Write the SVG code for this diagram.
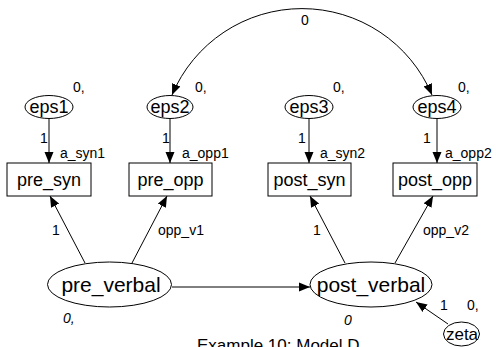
<svg xmlns="http://www.w3.org/2000/svg" width="496" height="347" viewBox="0 0 496 347">
<style>
text{font-family:"Liberation Sans",Arial,sans-serif;fill:#000}
.sh{fill:#fff;stroke:#000;stroke-width:1}
.ln{fill:none;stroke:#000;stroke-width:1}
.box{font-size:18px;text-anchor:middle}
.eps{font-size:18px;text-anchor:middle}
.lat{font-size:21px;text-anchor:middle}
.sm{font-size:14px}
.it{font-size:14px;font-style:italic}
</style>
<defs>
<marker id="ah" markerUnits="userSpaceOnUse" markerWidth="12" markerHeight="10" refX="11" refY="4.5" orient="auto-start-reverse" viewBox="0 0 12 9">
<path d="M0,0 L11,4.5 L0,9 Z" fill="#000"/>
</marker>
</defs>
<g id="connectors">
<path class="ln" d="M172,95 A141,141 0 0 1 432,95" marker-start="url(#ah)" marker-end="url(#ah)"/>
<line class="ln" x1="49" y1="118" x2="49" y2="163" marker-end="url(#ah)"/>
<line class="ln" x1="170" y1="118" x2="170" y2="163" marker-end="url(#ah)"/>
<line class="ln" x1="309" y1="118" x2="309" y2="163" marker-end="url(#ah)"/>
<line class="ln" x1="437" y1="118" x2="437" y2="163" marker-end="url(#ah)"/>
<line class="ln" x1="85" y1="263" x2="50" y2="196" marker-end="url(#ah)"/>
<line class="ln" x1="132" y1="263" x2="167" y2="196" marker-end="url(#ah)"/>
<line class="ln" x1="345" y1="263" x2="310" y2="196" marker-end="url(#ah)"/>
<line class="ln" x1="395" y1="263" x2="433" y2="196" marker-end="url(#ah)"/>
<line class="ln" x1="172" y1="287" x2="310" y2="287" marker-end="url(#ah)"/>
<line class="ln" x1="448" y1="324" x2="416" y2="302" marker-end="url(#ah)"/>
<text class="sm" x="301" y="25">0</text>
<text class="sm" x="40" y="143">1</text>
<text class="sm" x="60" y="158">a_syn1</text>
<text class="sm" x="162" y="143">1</text>
<text class="sm" x="182" y="158">a_opp1</text>
<text class="sm" x="298" y="143">1</text>
<text class="sm" x="320" y="158">a_syn2</text>
<text class="sm" x="423" y="143">1</text>
<text class="sm" x="445" y="158">a_opp2</text>
<text class="sm" x="52" y="235">1</text>
<text class="sm" x="158" y="235">opp_v1</text>
<text class="sm" x="313" y="235">1</text>
<text class="sm" x="423" y="235">opp_v2</text>
<text class="sm" x="440" y="310">1</text>
</g>
<g id="eps1"><ellipse class="sh" cx="49" cy="107" rx="24" ry="11.5"/><text class="eps" x="49" y="113">eps1</text><text class="sm" x="73" y="92">0,</text></g>
<g id="eps2"><ellipse class="sh" cx="170" cy="107" rx="23" ry="11.5"/><text class="eps" x="170" y="113">eps2</text><text class="sm" x="195" y="92">0,</text></g>
<g id="eps3"><ellipse class="sh" cx="309" cy="107" rx="24" ry="11.5"/><text class="eps" x="309" y="113">eps3</text><text class="sm" x="333" y="92">0,</text></g>
<g id="eps4"><ellipse class="sh" cx="437" cy="107" rx="24" ry="11.5"/><text class="eps" x="437" y="113">eps4</text><text class="sm" x="458" y="92">0,</text></g>
<g id="pre_syn"><rect class="sh" x="7" y="163" width="84" height="33"/><text class="box" x="49" y="186">pre_syn</text></g>
<g id="pre_opp"><rect class="sh" x="129" y="163" width="83" height="33"/><text class="box" x="170.5" y="186">pre_opp</text></g>
<g id="post_syn"><rect class="sh" x="268" y="163" width="83" height="33"/><text class="box" x="309.5" y="186">post_syn</text></g>
<g id="post_opp"><rect class="sh" x="393" y="163" width="84" height="33"/><text class="box" x="435" y="186">post_opp</text></g>
<g id="pre_verbal"><ellipse class="sh" cx="109.5" cy="284.5" rx="62" ry="22.5"/><text class="lat" x="111" y="292">pre_verbal</text><text class="it" x="63" y="323">0,</text></g>
<g id="post_verbal"><ellipse class="sh" cx="371" cy="284.5" rx="61" ry="22.5"/><text class="lat" x="371" y="292">post_verbal</text><text class="it" x="344" y="325">0</text></g>
<g id="zeta"><ellipse class="sh" cx="461.5" cy="334" rx="18" ry="12"/><text class="eps" x="462" y="340" style="font-size:17px">zeta</text><text class="sm" x="467" y="310">0,</text></g>
<text x="197" y="351" style="font-size:17px">Example 10: Model D</text>
</svg>
